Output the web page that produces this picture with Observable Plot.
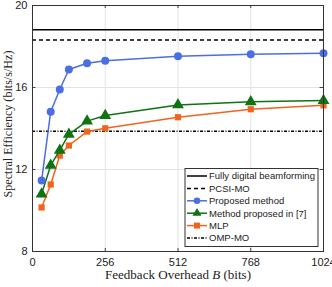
<!DOCTYPE html>
<html>
<head>
<meta charset="utf-8">
<script src="https://cdn.jsdelivr.net/npm/d3@7"></script>
<script src="https://cdn.jsdelivr.net/npm/@observablehq/plot@0.6"></script>
<style>
html, body { margin: 0; padding: 0; background: white; overflow: hidden; }
#chart { width: 332px; height: 287px; }
</style>
</head>
<body>
<div id="chart"></div>
<script>
// Data
const feedbackBits = [32, 64, 96, 128, 192, 256, 512, 768, 1024];
const proposed = [11.46, 14.82, 15.9, 16.88, 17.18, 17.3, 17.52, 17.62, 17.67];
const method7 = [10.8, 12.2, 12.94, 13.71, 14.36, 14.63, 15.15, 15.3, 15.36];
const mlp = [10.15, 11.27, 12.68, 13.17, 13.85, 14.01, 14.55, 14.94, 15.13];
const fullyDigital = 18.82;
const pcsiMO = 18.32;
const ompMO = 13.86;
const xTicks = [0, 256, 512, 768, 1024];
const yTicks = [8, 12, 16, 20];
const legendLabels = ["Fully digital beamforming", "PCSI-MO", "Proposed method", "Method proposed in [7]", "MLP", "OMP-MO"];

const cBlue = "#4a6fe3", cGreen = "#0f7312", cOrange = "#f0641e";

const mk = (ys) => feedbackBits.map((b, i) => ({b, v: ys[i]}));
const sans = "'Liberation Sans', Arial, sans-serif";
const serif = "'Liberation Serif', 'DejaVu Serif', serif";

const plot = Plot.plot({
  width: 332, height: 287,
  marginLeft: 32, marginRight: 9, marginTop: 5, marginBottom: 36,
  style: {fontFamily: sans, fontSize: "11px", background: "white", overflow: "hidden"},
  x: {domain: [0, 1024], ticks: xTicks, label: null},
  y: {domain: [8, 20], ticks: yTicks, label: null},
  marks: [
    Plot.gridX(xTicks, {stroke: "#e3e3e3", strokeOpacity: 1}),
    Plot.gridY(yTicks, {stroke: "#e3e3e3", strokeOpacity: 1}),
    Plot.axisX(xTicks, {tickSize: 0, tickPadding: 7, fill: "#222", tickFormat: d => String(d)}),
    Plot.axisY(yTicks, {tickSize: 0, tickPadding: 5, fill: "#222", tickFormat: d => String(d)}),
    Plot.ruleX(xTicks, {y1: 8, y2: 8.15, stroke: "#444"}),
    Plot.ruleX(xTicks, {y1: 20, y2: 19.85, stroke: "#444"}),
    Plot.ruleY(yTicks, {x1: 0, x2: 12, stroke: "#444"}),
    Plot.ruleY(yTicks, {x1: 1024, x2: 1012, stroke: "#444"}),
    Plot.ruleY([fullyDigital], {stroke: "#000", strokeWidth: 1.5}),
    Plot.ruleY([pcsiMO], {stroke: "#000", strokeWidth: 1.5, strokeDasharray: "4,3"}),
    Plot.ruleY([ompMO], {stroke: "#000", strokeWidth: 1.5, strokeDasharray: "3,1.5,1,1.5"}),
    Plot.line(mk(mlp), {x: "b", y: "v", stroke: cOrange, strokeWidth: 1.5}),
    Plot.dot(mk(mlp), {x: "b", y: "v", symbol: "square", fill: cOrange, r: 3.5}),
    Plot.line(mk(method7), {x: "b", y: "v", stroke: cGreen, strokeWidth: 1.5}),
    Plot.dot(mk(method7), {x: "b", y: "v", symbol: "triangle", fill: cGreen, r: 4.4}),
    Plot.line(mk(proposed), {x: "b", y: "v", stroke: cBlue, strokeWidth: 1.5}),
    Plot.dot(mk(proposed), {x: "b", y: "v", symbol: "circle", fill: cBlue, r: 4}),
    Plot.frame({stroke: "#333", strokeWidth: 1})
  ]
});
document.getElementById("chart").appendChild(plot);

// fit text to a target width
function fit(sel, target, base) {
  const w = sel.node().getComputedTextLength();
  if (w > 0) sel.style("font-size", (base * target / w).toFixed(2) + "px");
}

// Legend drawn in the SVG
const svg = d3.select(plot);
const lg = svg.append("g").style("font-family", sans).style("font-size", "9.6px");
const lx = 185, ly = 168.5, lw = 133, lh = 78;
lg.append("rect").attr("x", lx).attr("y", ly).attr("width", lw).attr("height", lh)
  .attr("fill", "white").attr("stroke", "#333").attr("stroke-width", 1);
const styles = [
  {stroke: "#000", dash: null, sym: null},
  {stroke: "#000", dash: "4,3", sym: null},
  {stroke: cBlue, dash: null, sym: "circle"},
  {stroke: cGreen, dash: null, sym: "triangle"},
  {stroke: cOrange, dash: null, sym: "square"},
  {stroke: "#000", dash: "3,1.5,1,1.5", sym: null}
];
const first = lg.append("text").text(legendLabels[0]);
const wFirst = first.node().getComputedTextLength();
first.remove();
const legendSize = wFirst > 0 ? Math.min(10.5, 9.6 * 106 / wFirst) : 9.6;
lg.style("font-size", legendSize.toFixed(2) + "px");
legendLabels.forEach((lab, i) => {
  const y = ly + 7.5 + i * 12.4;
  const s = styles[i];
  const ln = lg.append("line").attr("x1", lx + 2).attr("x2", lx + 22).attr("y1", y).attr("y2", y)
    .attr("stroke", s.stroke).attr("stroke-width", 1.5);
  if (s.dash) ln.attr("stroke-dasharray", s.dash);
  const cx = lx + 12;
  if (s.sym === "circle") lg.append("circle").attr("cx", cx).attr("cy", y).attr("r", 3.3).attr("fill", s.stroke);
  if (s.sym === "square") lg.append("rect").attr("x", cx - 3).attr("y", y - 3).attr("width", 6).attr("height", 6).attr("fill", s.stroke);
  if (s.sym === "triangle") lg.append("path").attr("d", d3.symbol(d3.symbolTriangle, 36)()).attr("transform", `translate(${cx},${y})`).attr("fill", s.stroke);
  lg.append("text").attr("x", lx + 24).attr("y", y).attr("dy", "0.35em").style("text-anchor", "start").attr("fill", "#222").text(lab);
});

// Axis titles
const xt = svg.append("text").attr("x", 178).attr("y", 279).style("text-anchor", "middle")
  .style("font-family", serif).style("font-size", "11.5px").attr("fill", "#222");
xt.append("tspan").text("Feedback Overhead ");
xt.append("tspan").style("font-style", "italic").text("B");
xt.append("tspan").text(" (bits)");
fit(xt, 146, 11.5);
const yt = svg.append("text").attr("transform", "translate(12,124) rotate(-90)").style("text-anchor", "middle")
  .style("font-family", serif).style("font-size", "11.5px").attr("fill", "#222")
  .text("Spectral Efficiency (bits/s/Hz)");
fit(yt, 147, 11.5);
</script>
</body>
</html>
